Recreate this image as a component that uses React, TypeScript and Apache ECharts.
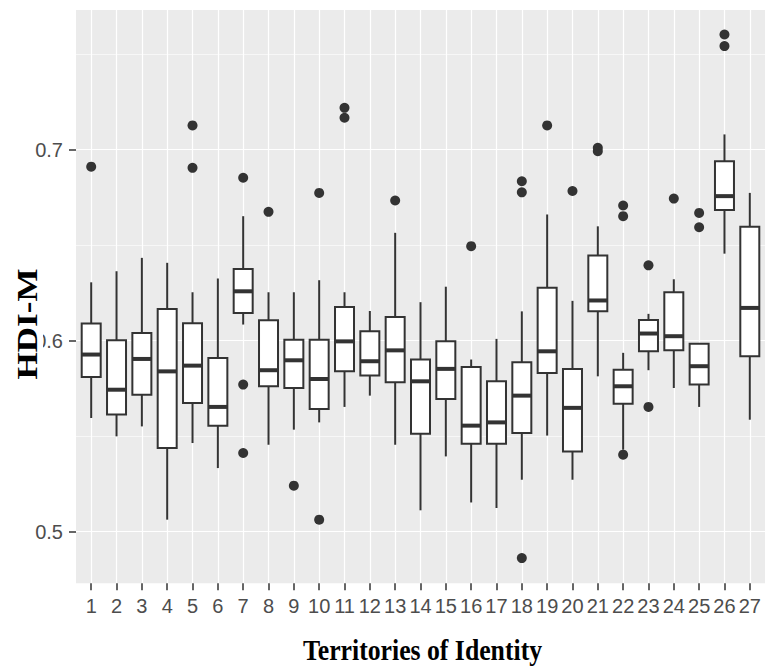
import React, { useEffect, useRef } from "react";
import * as echarts from "echarts";

const categories = [
  "1", "2", "3", "4", "5", "6", "7", "8", "9", "10", "11", "12", "13", "14",
  "15", "16", "17", "18", "19", "20", "21", "22", "23", "24", "25", "26", "27",
];
const whiskerLow = [
  0.5595, 0.5499, 0.5551, 0.5063, 0.5464, 0.5333, 0.6084, 0.5455, 0.5534, 0.5572,
  0.5653, 0.5712, 0.5455, 0.5112, 0.5394, 0.5153, 0.5124, 0.5272, 0.5503, 0.5272,
  0.5813, 0.5429, 0.5845, 0.5752, 0.5653, 0.6455, 0.5586,
];
const q1 = [
  0.581, 0.5613, 0.5717, 0.5438, 0.5674, 0.5555, 0.6145, 0.5761, 0.5752, 0.5642,
  0.5839, 0.5817, 0.5782, 0.5513, 0.5695, 0.546, 0.546, 0.5517, 0.5831, 0.542,
  0.6153, 0.567, 0.5944, 0.5949, 0.577, 0.6684, 0.5918,
];
const median = [
  0.5927, 0.5743, 0.5904, 0.5839, 0.5869, 0.5653, 0.6258, 0.5845, 0.5897, 0.5799,
  0.5996, 0.5892, 0.5949, 0.5787, 0.5852, 0.5555, 0.5572, 0.5712, 0.5944, 0.5648,
  0.621, 0.5761, 0.6037, 0.6023, 0.5866, 0.6756, 0.6171,
];
const q3 = [
  0.609, 0.6002, 0.604, 0.6166, 0.6091, 0.5909, 0.6375, 0.6106, 0.6005, 0.6005,
  0.6176, 0.6049, 0.6124, 0.5901, 0.5996, 0.5862, 0.5787, 0.5887, 0.6276, 0.5852,
  0.6445, 0.5848, 0.6108, 0.6253, 0.5984, 0.6939, 0.6596,
];
const whiskerHigh = [
  0.6305, 0.6363, 0.6433, 0.6407, 0.6253, 0.6325, 0.6651, 0.6253, 0.6253, 0.6316,
  0.6253, 0.6155, 0.6564, 0.6201, 0.6282, 0.5901, 0.6009, 0.6153, 0.666, 0.6208,
  0.6598, 0.5936, 0.614, 0.6321, 0.5984, 0.7079, 0.6773,
];
// [territory, HDI-M]
const outliers: [number, number][] = [
  [1, 0.691],
  [5, 0.7126], [5, 0.6904],
  [7, 0.6852], [7, 0.577], [7, 0.5412],
  [8, 0.6674],
  [9, 0.5241],
  [10, 0.6773], [10, 0.5063],
  [11, 0.7218], [11, 0.7166],
  [13, 0.6733],
  [16, 0.6494],
  [18, 0.6834], [18, 0.6776], [18, 0.4862],
  [19, 0.7126],
  [20, 0.6783],
  [21, 0.7009], [21, 0.6991],
  [22, 0.6707], [22, 0.6651], [22, 0.5403],
  [23, 0.6394], [23, 0.5653],
  [24, 0.6743],
  [25, 0.6668], [25, 0.6593],
  [26, 0.7602], [26, 0.7541],
];
const xTicks = categories.map((_, i) => i + 1);
const yTicks = [0.5, 0.6, 0.7];
const yMinorTicks = [0.55, 0.65, 0.75];

const INK = "#333333";
const TICK_FONT = "'Liberation Sans Narrow', 'Arial Narrow', 'Liberation Sans', sans-serif";
const TITLE_FONT = "'Liberation Serif', 'Times New Roman', serif";

export default function App() {
  const ref = useRef<HTMLDivElement>(null);
  useEffect(() => {
    document.body.style.margin = "0";
    if (!ref.current) return;
    const chart = echarts.init(ref.current, undefined, { renderer: "svg" });
    const boxData = categories.map((_, i) => [
      i + 1, whiskerLow[i], q1[i], median[i], q3[i], whiskerHigh[i],
    ]);
    chart.setOption({
      animation: false,
      backgroundColor: "#ffffff",
      grid: {
        left: 76,
        top: 10,
        width: 693.3,
        height: 573.3,
        show: true,
        backgroundColor: "#ebebeb",
        borderWidth: 0,
      },
      xAxis: [
        {
          type: "value",
          min: 0.4,
          max: 27.6,
          axisLine: { show: false },
          axisTick: {
            show: true,
            customValues: xTicks,
            length: 7,
            lineStyle: { color: INK, width: 1.5 },
          },
          axisLabel: {
            customValues: xTicks,
            formatter: (v: number) => categories[Math.round(v) - 1] ?? "",
            color: "#4d4d4d",
            fontSize: 20,
            fontFamily: TICK_FONT,
            margin: 13,
          },
          splitLine: { show: true, lineStyle: { color: "#ffffff", width: 1.2 } },
        },
      ],
      yAxis: [
        {
          type: "value",
          min: 0.473,
          max: 0.773,
          axisLine: { show: false },
          axisTick: {
            show: true,
            customValues: yTicks,
            length: 7,
            lineStyle: { color: INK, width: 1.5 },
          },
          axisLabel: {
            customValues: yTicks,
            formatter: (v: number) => v.toFixed(1),
            color: "#4d4d4d",
            fontSize: 20,
            fontFamily: TICK_FONT,
            margin: 13,
          },
          splitLine: { show: true, lineStyle: { color: "#ffffff", width: 1.2 } },
        },
        {
          type: "value",
          min: 0.473,
          max: 0.773,
          position: "left",
          axisLine: { show: false },
          axisTick: { show: false, customValues: yMinorTicks },
          axisLabel: { show: false, customValues: yMinorTicks },
          splitLine: { show: true, lineStyle: { color: "#ffffff", width: 0.6 } },
        },
      ],
      series: [
        {
          type: "custom",
          data: boxData,
          encode: { x: 0, y: [1, 2, 3, 4, 5] },
          z: 3,
          renderItem: (params: any, api: any) => {
            const x = api.value(0);
            const lo = api.coord([x, api.value(1)]);
            const b1 = api.coord([x, api.value(2)]);
            const md = api.coord([x, api.value(3)]);
            const b3 = api.coord([x, api.value(4)]);
            const hi = api.coord([x, api.value(5)]);
            const unit = api.size([1, 0])[0];
            const half = unit * 0.375;
            const lineStyle = { stroke: INK, lineWidth: 2 };
            return {
              type: "group",
              children: [
                { type: "line", shape: { x1: lo[0], y1: lo[1], x2: lo[0], y2: b1[1] }, style: lineStyle },
                { type: "line", shape: { x1: hi[0], y1: hi[1], x2: hi[0], y2: b3[1] }, style: lineStyle },
                {
                  type: "rect",
                  shape: { x: b3[0] - half, y: b3[1], width: 2 * half, height: b1[1] - b3[1] },
                  style: { fill: "#ffffff", stroke: INK, lineWidth: 2 },
                },
                {
                  type: "line",
                  shape: { x1: md[0] - half, y1: md[1], x2: md[0] + half, y2: md[1] },
                  style: { stroke: INK, lineWidth: 4 },
                },
              ],
            };
          },
        },
        {
          type: "scatter",
          data: outliers,
          symbol: "circle",
          symbolSize: 10,
          z: 4,
          itemStyle: { color: INK, opacity: 1 },
        },
      ],
      graphic: [
        {
          type: "rect",
          z: 100,
          shape: { x: 0, y: 262, width: 43, height: 126 },
          style: { fill: "#ffffff" },
        },
        {
          type: "text",
          z: 101,
          x: 27.5,
          y: 324,
          rotation: Math.PI / 2,
          scaleX: 1.21,
          style: {
            text: "HDI-M",
            fontFamily: TITLE_FONT,
            fontWeight: "bold",
            fontSize: 29,
            fill: "#000000",
            align: "center",
            verticalAlign: "middle",
          },
        },
        {
          type: "text",
          z: 101,
          x: 422.5,
          y: 650,
          scaleX: 0.858,
          style: {
            text: "Territories of Identity",
            fontFamily: TITLE_FONT,
            fontWeight: "bold",
            fontSize: 30,
            fill: "#000000",
            align: "center",
            verticalAlign: "middle",
          },
        },
      ],
    });
    return () => chart.dispose();
  }, []);
  return <div ref={ref} style={{ width: 765, height: 668 }} />;
}
